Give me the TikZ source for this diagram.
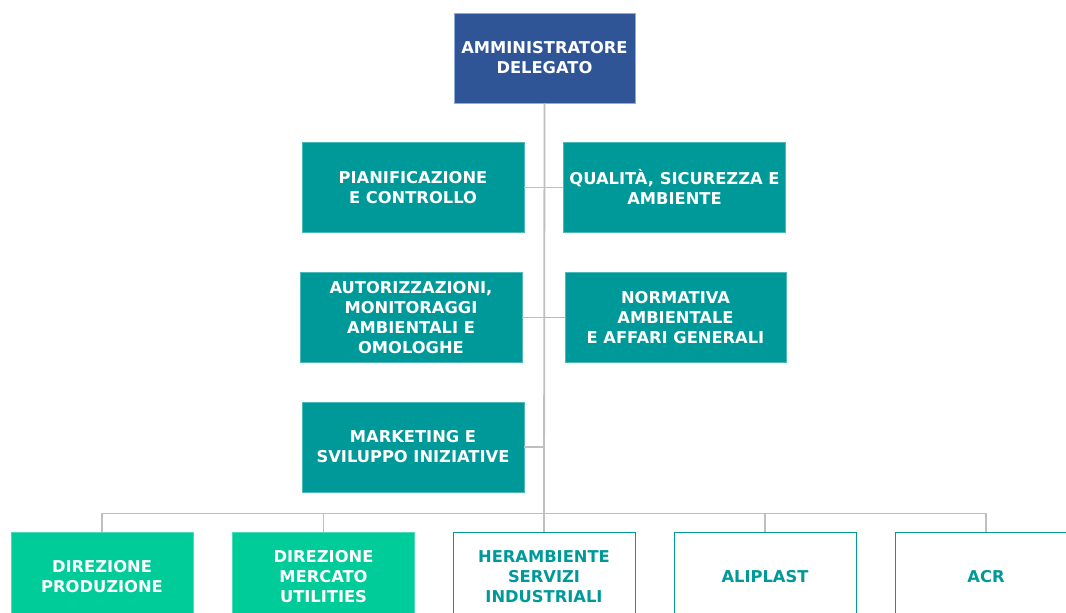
\documentclass[tikz,border=0pt]{standalone}
\usepackage{fontspec}
\setmainfont{DejaVu Sans}
\definecolor{adblue}{HTML}{2F5597}
\definecolor{adedge}{HTML}{8FAADC}
\definecolor{teal1}{HTML}{009999}
\definecolor{green1}{HTML}{00CC99}
\definecolor{lineg}{HTML}{BFBFBF}
\definecolor{lineb}{HTML}{A9BDD6}
\begin{document}
\begin{tikzpicture}[x=1pt,y=-1pt,
  box/.style={rectangle, inner sep=0pt, align=center, text=white,
    font=\bfseries\fontsize{16.3}{20}\selectfont, line width=0.8pt},
  adbox/.style={box, fill=adblue, draw=adedge, minimum width=181pt, minimum height=90pt},
  tealbox/.style={box, fill=teal1, draw=teal1!70!white, minimum width=222pt, minimum height=90pt},
  greenbox/.style={box, fill=green1, draw=green1!70!white, minimum width=182pt, minimum height=90pt},
  whitebox/.style={box, fill=white, draw=teal1, text=teal1, minimum width=182pt, minimum height=90pt},
  conn/.style={draw=lineg, line width=1.8pt}]
\useasboundingbox (0,0) rectangle (1066,613);
\clip (0,0) rectangle (1066,613);
\node[adbox] (ad) at (544.5,58) {AMMINISTRATORE\\DELEGATO};
\node[tealbox] (pc) at (413,187.5) {PIANIFICAZIONE\\E CONTROLLO};
\node[tealbox] (qs) at (674.5,187) {QUALITÀ, SICUREZZA E\\AMBIENTE};
\node[tealbox] (au) at (411,317.5) {AUTORIZZAZIONI,\\MONITORAGGI\\AMBIENTALI E\\OMOLOGHE};
\node[tealbox, minimum width=221pt] (na) at (675.5,317.5) {NORMATIVA\\AMBIENTALE\\E AFFARI GENERALI};
\node[tealbox] (mk) at (413,447) {MARKETING E\\SVILUPPO INIZIATIVE};
\node[greenbox] (dp) at (102,577) {DIREZIONE\\PRODUZIONE};
\node[greenbox] (dm) at (323.5,577) {DIREZIONE\\MERCATO\\UTILITIES};
\node[whitebox] (he) at (544,577) {HERAMBIENTE\\SERVIZI\\INDUSTRIALI};
\node[whitebox] (al) at (765,577) {ALIPLAST};
\node[whitebox] (ac) at (986,577) {ACR};
\coordinate (bus) at (544,513.5);
\coordinate (j1) at (544,187.5);
\coordinate (j2) at (544,317.5);
\coordinate (j3) at (544,447);
\draw[conn] (ad.south) -- (bus);
\draw[conn] (pc.east) -- (j1) -- (qs.west |- j1);
\draw[conn] (au.east) -- (j2);
\draw[draw=lineb, line width=1.8pt] (j2) -- (na.west |- j2);
\draw[conn] (mk.east) -- (j3);
\draw[conn] (dp.north) |- (bus) -| (ac.north);
\draw[conn] (dm.north) -- (dm.north |- bus);
\draw[conn] (he.north) -- (bus);
\draw[conn] (al.north) -- (al.north |- bus);
\end{tikzpicture}
\end{document}
